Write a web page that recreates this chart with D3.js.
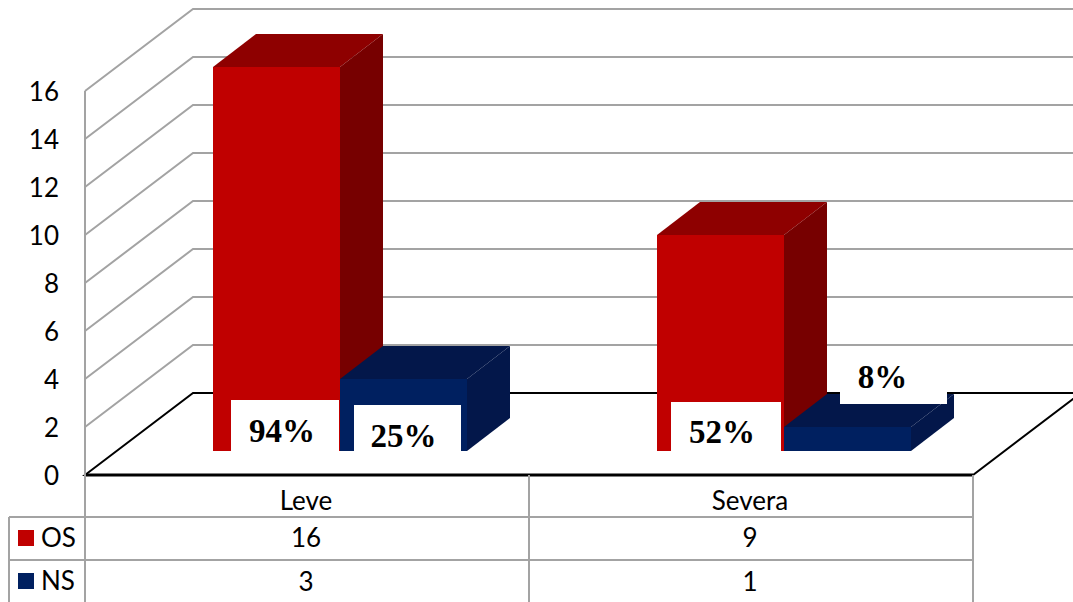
<!DOCTYPE html>
<html><head><meta charset="utf-8">
<script src="https://cdn.jsdelivr.net/npm/d3@7"></script>
<style>html,body{margin:0;padding:0;background:#fff;overflow:hidden}svg{display:block}text{font-family:Lato,"Open Sans",sans-serif;fill:#000}</style>
</head><body><svg id="c" width="1073" height="602"></svg>
<script>
const categories = ["Leve", "Severa"];
const seriesNames = ["OS", "NS"];
const osValues = [16, 9];
const nsValues = [3, 1];
const tickValues = [0, 2, 4, 6, 8, 10, 12, 14, 16];
const osPercent = ["94%", "52%"];
const nsPercent = ["25%", "8%"];

const svg = d3.select("#c");
const left = 85, right = 973, base = 475, top16 = 91;
const depthX = 108, depthY = 82;           // wall depth
const barDX = 43, barDY = 33;              // bar depth
const barBase = 451;
const grey = "#a3a3a3";
const cols = {OS: {f: "#c00000", t: "#8e0000", s: "#770000"},
              NS: {f: "#002060", t: "#03174a", s: "#03174a"}};

const y = d3.scaleLinear().domain([0, 16]).range([base, top16]);
const h = d3.scaleLinear().domain([0, 16]).range([0, base - top16]);
const x0 = d3.scaleBand().domain(categories).range([left, right]);
const x1 = d3.scaleBand().domain(seriesNames).range([128, 382]);
const line = d3.line();

// walls / gridlines
const gridG = svg.append("g").attr("fill", "none").attr("stroke", grey).attr("stroke-width", 2);
gridG.selectAll("path").data(tickValues.filter(d => d > 0)).join("path")
  .attr("d", d => line([[left, y(d)], [left + depthX, y(d) - depthY], [1073, y(d) - depthY]]));

// floor
svg.append("path").attr("fill", "#fff").attr("stroke", "#000").attr("stroke-width", 2)
  .attr("d", line([[left, y(0)], [left + depthX, y(0) - depthY], [right + depthX, y(0) - depthY], [right, y(0)]]) + "Z");

// axis
const axis = d3.axisLeft(y).tickValues(tickValues).tickSize(0).tickPadding(26).tickFormat(d3.format("d"));
const ag = svg.append("g").attr("transform", `translate(${left},0)`).call(axis);
ag.select(".domain").remove();
ag.selectAll("text").attr("font-size", 26).attr("fill", "#000")
  .style("font-family", "Lato,sans-serif").attr("dy", "0.36em");

// bars
function bar(cat, name, v) {
  const xl = x0(cat) + x1(name), w = x1.bandwidth(), yt = barBase - h(v), c = cols[name];
  const g = svg.append("g");
  g.append("path").attr("fill", c.t).attr("d", line([[xl, yt], [xl + barDX, yt - barDY], [xl + w + barDX, yt - barDY], [xl + w, yt]]) + "Z");
  g.append("path").attr("fill", c.s).attr("d", line([[xl + w, yt], [xl + w + barDX, yt - barDY], [xl + w + barDX, barBase - barDY], [xl + w, barBase]]) + "Z");
  g.append("rect").attr("x", xl).attr("y", yt).attr("width", w).attr("height", barBase - yt).attr("fill", c.f);
}
categories.forEach((c, i) => { bar(c, "OS", osValues[i]); });
categories.forEach((c, i) => { bar(c, "NS", nsValues[i]); });

// percentage labels on white boxes
const boxes = [
  {cat: 0, s: "OS", t: osPercent[0], dx: 18, w: 108, top: 400, bot: 451, ty: 442, tx: -3},
  {cat: 0, s: "NS", t: nsPercent[0], dx: 14, w: 107, top: 405, bot: 451, ty: 447, tx: -4},
  {cat: 1, s: "OS", t: osPercent[1], dx: 14, w: 110, top: 402, bot: 451, ty: 443, tx: -4},
  {cat: 1, s: "NS", t: nsPercent[1], dx: 56, w: 107, top: 347, bot: 404, ty: 388, tx: -11}
];
boxes.forEach(b => {
  const bx = x0(categories[b.cat]) + x1(b.s) + b.dx;
  svg.append("rect").attr("x", bx).attr("y", b.top).attr("width", b.w).attr("height", b.bot - b.top).attr("fill", "#fff");
  svg.append("text").attr("x", bx + b.w / 2 + b.tx).attr("y", b.ty).attr("text-anchor", "middle")
    .attr("font-size", 33).attr("font-weight", 700).style("font-family", '"Liberation Serif",serif').text(b.t);
});
// restore the grid line that runs above the 8% box
svg.append("path").attr("fill", "none").attr("stroke", grey).attr("stroke-width", 2)
  .attr("d", line([[x0(categories[1]) + x1("NS") + barDX, y(4) - depthY], [1073, y(4) - depthY]]));

// front edge
svg.append("path").attr("stroke", "#000").attr("stroke-width", 3).attr("d", line([[left, base], [right, base]]));

// table
const rowY = [517, 560];
const tg = svg.append("g").attr("stroke", grey).attr("stroke-width", 2).attr("fill", "none");
tg.append("path").attr("d", line([[left, y(16)], [left, 602]]));
x0.domain().forEach((c, i) => {
  if (i > 0) tg.append("path").attr("d", line([[x0(c), base], [x0(c), 602]]));
});
tg.append("path").attr("d", line([[right, base], [right, 602]]));
tg.append("path").attr("d", line([[9, rowY[0]], [9, 602]]));
rowY.forEach(ry => tg.append("path").attr("d", line([[9, ry], [right, ry]])));

const cell = (xp, yp, t, a) => svg.append("text").attr("x", xp).attr("y", yp).attr("text-anchor", a || "middle")
  .attr("font-size", 26).text(t);
categories.forEach((c, i) => {
  const cx = x0(c) + x0.bandwidth() / 2 - 1;
  cell(cx, 510, c);
  cell(cx, 547, osValues[i]);
  cell(cx, 591, nsValues[i]);
});
seriesNames.forEach((s, i) => {
  svg.append("rect").attr("x", 18).attr("y", rowY[i] + 13).attr("width", 16).attr("height", 16).attr("fill", cols[s].f);
  cell(41, rowY[i] + 30, s, "start");
});
</script></body></html>
